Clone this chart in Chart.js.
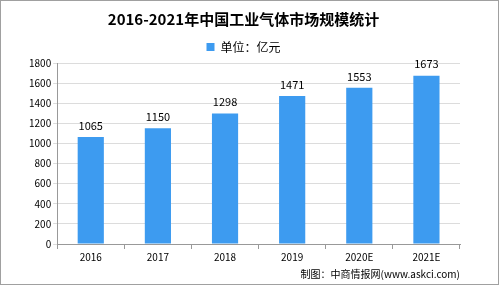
<!DOCTYPE html>
<html>
<head>
<meta charset="utf-8">
<script src="https://cdn.jsdelivr.net/npm/chart.js@4.4.0/dist/chart.umd.min.js"></script>
<style>
  html, body { margin: 0; padding: 0; background: #fff; }
  #wrap { position: relative; width: 499px; height: 285px; box-sizing: border-box; border: 1px solid #a0a0a0; }
  canvas { display: block; }
</style>
</head>
<body>
<div id="wrap"><canvas id="chart" width="497" height="283"></canvas></div>
<script>
const years = ["2016", "2017", "2018", "2019", "2020E", "2021E"];
const marketSize = [1065, 1150, 1298, 1471, 1553, 1673];
const yTicks = [0, 200, 400, 600, 800, 1000, 1200, 1400, 1600, 1800];

const barColor = "#3d9bf0";
const txtFont = "'Noto Sans CJK SC', 'DejaVu Sans', sans-serif";

// valeurs au-dessus des barres
const valueLabels = {
  id: "valueLabels",
  afterDatasetsDraw(chart) {
    const ctx = chart.ctx;
    const meta = chart.getDatasetMeta(0);
    ctx.save();
    ctx.font = "11px " + txtFont;
    ctx.fillStyle = "#000";
    ctx.textAlign = "center";
    ctx.textBaseline = "bottom";
    meta.data.forEach((bar, i) => {
      ctx.fillText(marketSize[i], bar.x, bar.y - 6);
    });
    ctx.restore();
  }
};

new Chart(document.getElementById("chart"), {
  type: "bar",
  data: {
    labels: years,
    datasets: [{
      label: "单位：亿元",
      data: marketSize,
      backgroundColor: barColor,
      barPercentage: 0.39,
      categoryPercentage: 1
    }]
  },
  options: {
    responsive: false,
    animation: false,
    layout: { padding: { left: 26, right: 38, top: 0, bottom: 0 } },
    plugins: {
      title: {
        display: true,
        text: "2016-2021年中国工业气体市场规模统计",
        color: "#000",
        font: { family: txtFont, size: 15, weight: "bold" },
        padding: { top: 9, bottom: 1 }
      },
      legend: {
        display: true,
        labels: {
          color: "#000",
          boxWidth: 8,
          boxHeight: 8,
          padding: 12,
          font: { family: txtFont, size: 12 }
        }
      },
      subtitle: {
        display: true,
        position: "bottom",
        align: "end",
        text: "制图：中商情报网(www.askci.com)",
        color: "#000",
        font: { family: txtFont, size: 10 },
        padding: { top: 3, bottom: 4 }
      },
      tooltip: { enabled: false }
    },
    scales: {
      x: {
        grid: {
          offset: true,
          drawOnChartArea: false,
          drawTicks: true,
          tickLength: 5,
          color: "#999"
        },
        border: { color: "#999" },
        ticks: { color: "#000", font: { family: txtFont, size: 10 }, padding: 2 }
      },
      y: {
        min: 0,
        max: 1800,
        afterBuildTicks(axis) {
          axis.ticks = yTicks.map(v => ({ value: v }));
        },
        grid: { color: "#dcdcdc", tickLength: 4 },
        border: { color: "#999" },
        ticks: {
          color: "#000",
          font: { family: txtFont, size: 10 },
          padding: 2,
          callback: v => String(v)
        }
      }
    }
  },
  plugins: [valueLabels]
});
</script>
</body>
</html>
